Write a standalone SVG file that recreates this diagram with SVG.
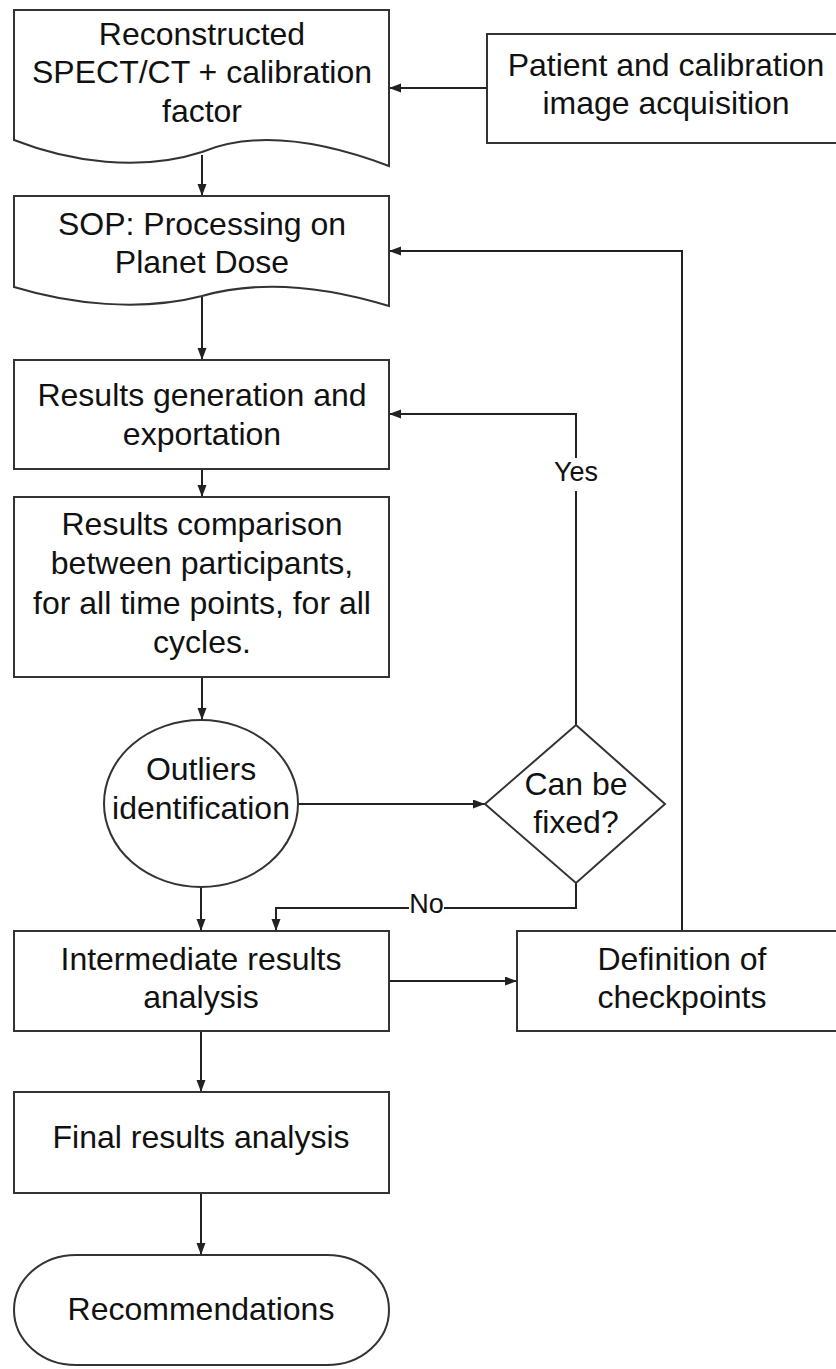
<svg xmlns="http://www.w3.org/2000/svg" width="836" height="1369" viewBox="0 0 836 1369">
  <defs>
    <marker id="arrow" markerUnits="userSpaceOnUse" markerWidth="12" markerHeight="10" refX="12" refY="4.5" orient="auto">
      <path d="M0,0 L12,4.5 L0,9 z" fill="#222"/>
    </marker>
    <style>
      .shape { fill: #fff; stroke: #333; stroke-width: 2; }
      .edge { fill: none; stroke: #222; stroke-width: 2; marker-end: url(#arrow); }
      .line { fill: none; stroke: #222; stroke-width: 2; }
      .lbl { font-family: "Liberation Sans", Arial, sans-serif; font-size: 32px; fill: #111; text-anchor: middle; }
      .small { font-family: "Liberation Sans", Arial, sans-serif; font-size: 27px; fill: #111; text-anchor: middle; }
    </style>
  </defs>

  <rect width="836" height="1369" fill="#fff"/>

  <!-- connectors -->
  <g id="connectors">
    <path class="edge" d="M202,155 V196"/>
    <path class="edge" d="M487,88 H389"/>
    <path class="edge" d="M202,297 V360"/>
    <path class="edge" d="M202,469 V497"/>
    <path class="edge" d="M202,677 V720"/>
    <path class="edge" d="M298,804 H485"/>
    <path class="edge" d="M576,725 V414 H389"/>
    <path class="edge" d="M576,883 V908 H276 V931"/>
    <path class="edge" d="M201,887 V931"/>
    <path class="edge" d="M389,981 H517"/>
    <path class="edge" d="M682,931 V251 H389"/>
    <path class="edge" d="M201,1031 V1092"/>
    <path class="edge" d="M201,1193 V1255"/>
    <!-- edge labels -->
    <rect x="552" y="458" width="48" height="33" fill="#fff"/>
    <text class="small" x="576" y="481">Yes</text>
    <rect x="409" y="893" width="35" height="26" fill="#fff"/>
    <text class="small" x="426.5" y="913">No</text>
  </g>

  <g id="reconstructed">
    <path class="shape" d="M14,10 H389 V166 C320,140 255,130 202,152 C140,172 70,162 14,140 Z"/>
    <text class="lbl" x="202" y="45">Reconstructed</text>
    <text class="lbl" x="202" y="83">SPECT/CT + calibration</text>
    <text class="lbl" x="202" y="122">factor</text>
  </g>

  <g id="acquisition">
    <rect class="shape" x="487" y="34" width="360" height="109"/>
    <text class="lbl" x="666" y="76">Patient and calibration</text>
    <text class="lbl" x="666" y="114">image acquisition</text>
  </g>

  <g id="sop">
    <path class="shape" d="M14,196 H389 V306 C320,285 258,280 202,296 C140,312 70,304 14,287 Z"/>
    <text class="lbl" x="202" y="235">SOP: Processing on</text>
    <text class="lbl" x="202" y="273">Planet Dose</text>
  </g>

  <g id="generation">
    <rect class="shape" x="14" y="360" width="375" height="109"/>
    <text class="lbl" x="202" y="406">Results generation and</text>
    <text class="lbl" x="202" y="445">exportation</text>
  </g>

  <g id="comparison">
    <rect class="shape" x="14" y="497" width="375" height="180"/>
    <text class="lbl" x="202" y="535">Results comparison</text>
    <text class="lbl" x="202" y="574">between participants,</text>
    <text class="lbl" x="202" y="614">for all time points, for all</text>
    <text class="lbl" x="202" y="653">cycles.</text>
  </g>

  <g id="outliers">
    <ellipse class="shape" cx="201" cy="803.5" rx="97" ry="83.5"/>
    <text class="lbl" x="201" y="780">Outliers</text>
    <text class="lbl" x="201" y="819">identification</text>
  </g>

  <g id="fixable">
    <path class="shape" d="M576,725 L665,804 L576,883 L485,804 Z"/>
    <text class="lbl" x="576" y="795">Can be</text>
    <text class="lbl" x="576" y="833">fixed?</text>
  </g>

  <g id="intermediate">
    <rect class="shape" x="14" y="931" width="375" height="100"/>
    <text class="lbl" x="201" y="970">Intermediate results</text>
    <text class="lbl" x="201" y="1008">analysis</text>
  </g>

  <g id="checkpoints">
    <rect class="shape" x="517" y="931" width="331" height="100"/>
    <text class="lbl" x="682" y="970">Definition of</text>
    <text class="lbl" x="682" y="1008">checkpoints</text>
  </g>

  <g id="final">
    <rect class="shape" x="14" y="1092" width="375" height="101"/>
    <text class="lbl" x="201" y="1148">Final results analysis</text>
  </g>

  <g id="recommendations">
    <rect class="shape" x="14" y="1255" width="375" height="110" rx="62" ry="55"/>
    <text class="lbl" x="201" y="1320">Recommendations</text>
  </g>
</svg>
